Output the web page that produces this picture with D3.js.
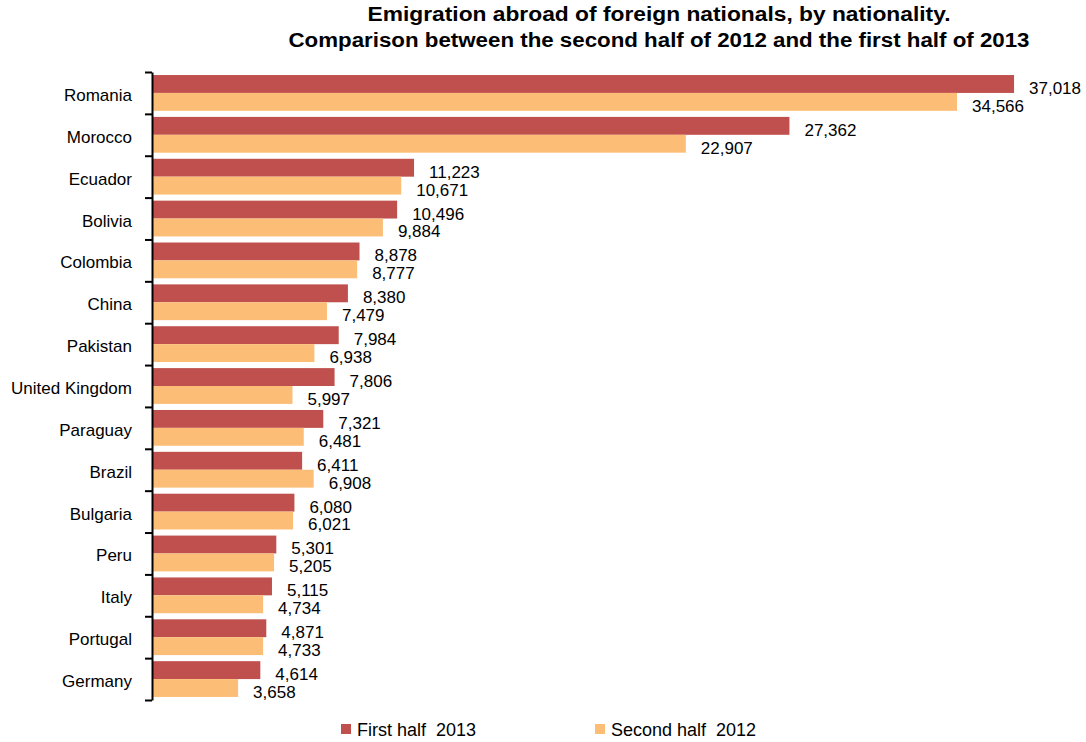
<!DOCTYPE html>
<html>
<head>
<meta charset="utf-8">
<script src="https://cdn.jsdelivr.net/npm/d3@7"></script>
<style>
  body { margin: 0; background: #fff; }
  text { font-family: "Liberation Sans", Arial, sans-serif; fill: #000; }
</style>
</head>
<body>
<div id="chart"></div>
<script>
// chart size
const width = 1086;
const height = 742;

// data
const countries = ["Romania", "Morocco", "Ecuador", "Bolivia", "Colombia", "China", "Pakistan",
  "United Kingdom", "Paraguay", "Brazil", "Bulgaria", "Peru", "Italy", "Portugal", "Germany"];
const firstHalf2013 = [37018, 27362, 11223, 10496, 8878, 8380, 7984, 7806, 7321, 6411, 6080, 5301, 5115, 4871, 4614];
const secondHalf2012 = [34566, 22907, 10671, 9884, 8777, 7479, 6938, 5997, 6481, 6908, 6021, 5205, 4734, 4733, 3658];
const seriesNames = ["First half  2013", "Second half  2012"];
const colors = ["#C0504D", "#FCBE76"];

const svg = d3.select("#chart").append("svg")
    .attr("width", width)
    .attr("height", height);

// title (stretched a bit, the original font runs wider)
const titleLines = [
  {text: "Emigration abroad of foreign nationals, by nationality.", y: 21, len: 583},
  {text: "Comparison between the second half of 2012 and the first half of 2013", y: 47, len: 741}
];
svg.selectAll("text.title")
    .data(titleLines)
    .enter()
    .append("text")
    .attr("class", "title")
    .attr("x", 659)
    .attr("y", function(d) { return d.y; })
    .attr("text-anchor", "middle")
    .attr("textLength", function(d) { return d.len; })
    .attr("lengthAdjust", "spacingAndGlyphs")
    .style("font-weight", "bold")
    .style("font-size", "19.5px")
    .text(function(d) { return d.text; });

// scales
const x = d3.scaleLinear().domain([0, 40000]).range([153, 153 + 40000 * 0.02326]);
const y = d3.scaleBand().domain(countries).range([72, 700]);
const inner = d3.scaleBand().domain([0, 1]).range([0, y.bandwidth()]).paddingOuter(0.17).paddingInner(0);

const rows = countries.map(function(c, i) {
    return {country: c, values: [firstHalf2013[i], secondHalf2012[i]]};
});

const groups = svg.selectAll("g.row")
    .data(rows)
    .enter()
    .append("g")
    .attr("class", "row")
    .attr("transform", function(d) { return "translate(0," + y(d.country) + ")"; });

const fmt = d3.format(",");

groups.selectAll("rect")
    .data(function(d) { return d.values; })
    .enter()
    .append("rect")
    .attr("x", x(0))
    .attr("y", function(d, i) { return inner(i); })
    .attr("width", function(d) { return x(d) - x(0); })
    .attr("height", inner.bandwidth())
    .style("fill", function(d, i) { return colors[i]; });

// value labels just past bar ends
groups.selectAll("text.val")
    .data(function(d) { return d.values; })
    .enter()
    .append("text")
    .attr("class", "val")
    .attr("x", function(d) { return x(d) + 15; })
    .attr("y", function(d, i) { return inner(i) + inner.bandwidth() + 1; })
    .style("font-size", "17px")
    .text(function(d) { return fmt(d); });

// category labels
groups.append("text")
    .attr("x", 132)
    .attr("y", y.bandwidth() / 2 + 8)
    .attr("text-anchor", "end")
    .style("font-size", "17px")
    .text(function(d) { return d.country; });

// axis with ticks on band boundaries
const bounds = d3.scaleLinear().domain([0, countries.length]).range([72, 700]);
svg.append("g")
    .attr("transform", "translate(" + 152 + ",0)")
    .call(d3.axisLeft(bounds).tickValues(d3.range(countries.length + 1)).tickFormat("").tickSize(7).tickSizeOuter(0))
    .call(function(g) {
        g.select(".domain").attr("stroke-width", 2);
        g.selectAll(".tick line").attr("stroke-width", 2);
    });

// legend
const legendX = [341, 595];
const legend = svg.selectAll("g.legend")
    .data(seriesNames)
    .enter()
    .append("g")
    .attr("class", "legend")
    .attr("transform", function(d, i) { return "translate(" + legendX[i] + ",724)"; });

legend.append("rect")
    .attr("width", 10)
    .attr("height", 10)
    .style("fill", function(d, i) { return colors[i]; });

legend.append("text")
    .attr("x", 16)
    .attr("y", 12)
    .style("font-size", "18px")
    .style("white-space", "pre")
    .text(function(d) { return d; });
</script>
</body>
</html>
